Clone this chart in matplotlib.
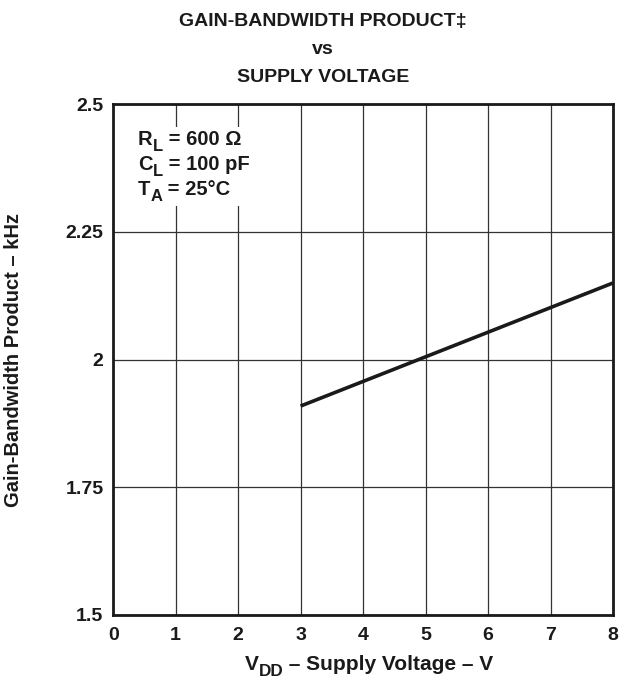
import matplotlib.pyplot as plt
from matplotlib.patches import Rectangle
from matplotlib.transforms import IdentityTransform
import numpy as np

plt.rcParams['font.family'] = ['Liberation Sans', 'DejaVu Sans']
plt.rcParams['font.weight'] = 'bold'

# supply voltage (V) and gain-bandwidth product (kHz)
vdd = [3, 8]
gbw = [1.909, 2.150]

x_ticks = [0, 1, 2, 3, 4, 5, 6, 7, 8]
y_ticks = [1.5, 1.75, 2, 2.25, 2.5]
y_tick_labels = ['1.5', '1.75', '2', '2.25', '2.5']

INK = '#1a1a1a'

fig = plt.figure(figsize=(6.32, 6.81), dpi=100)
ax = fig.add_axes([0.179, 0.097, 0.791, 0.750])
renderer = fig.canvas.get_renderer()


def sub_text(x, y, parts, size, ha='left'):
    # parts: list of (text, is_subscript); x, y in pixels (baseline of main text)
    objs = []
    for s, is_sub in parts:
        t = fig.text(0, 0, s, transform=IdentityTransform(), fontsize=size * (0.82 if is_sub else 1),
                     fontweight='bold', color=INK, va='baseline', ha='left', zorder=5)
        objs.append((t, is_sub))
    widths = [t.get_window_extent(renderer).width for t, _ in objs]
    total = sum(widths)
    cx = x - total / 2 if ha == 'center' else x
    for (t, is_sub), w in zip(objs, widths):
        t.set_position((cx, y - (size * 0.42 if is_sub else 0)))
        cx += w


ax.plot(vdd, gbw, color=INK, lw=2.6, solid_capstyle='butt', zorder=4)

ax.set_xlim(0, 8)
ax.set_ylim(1.5, 2.5)
ax.set_xticks(x_ticks)
ax.set_yticks(y_ticks)
ax.set_yticklabels(y_tick_labels)
ax.tick_params(length=0, labelsize=14, colors=INK)
ax.tick_params(axis='x', pad=9)
ax.tick_params(axis='y', pad=7)
for lbl in ax.get_xticklabels() + ax.get_yticklabels():
    lbl.set_fontweight('bold')

ax.grid(True, color='#333333', lw=0.9)
for s in ax.spines.values():
    s.set_linewidth(2)
    s.set_color(INK)

# blank out the grid behind the test conditions
ax.add_patch(Rectangle((0.004, 0.80), 0.28, 0.155, transform=ax.transAxes,
                       facecolor='white', edgecolor='none', zorder=3))

fig.text(14 / 632, 0.472, 'Gain-Bandwidth Product – kHz', rotation=90, ha='center',
         va='center', fontsize=14.5, fontweight='bold', color=INK)

sub_text(369, 681 - 670, [('V', False), ('DD', True), (' – Supply Voltage – V', False)], 15,
         ha='center')

fig.text(0.511, 0.969, 'GAIN-BANDWIDTH PRODUCT\u2021', ha='center', va='center',
         fontsize=14, fontweight='bold', color=INK)
fig.text(0.511, 0.928, 'vs', ha='center', va='center', fontsize=14, fontweight='bold',
         color=INK)
fig.text(0.511, 0.886, 'SUPPLY VOLTAGE', ha='center', va='center',
         fontsize=14, fontweight='bold', color=INK)

# test conditions
sub_text(138, 681 - 145, [('R', False), ('L', True), (' = 600 \u03a9', False)], 14.5)
sub_text(138, 681 - 170, [('C', False), ('L', True), (' = 100 pF', False)], 14.5)
sub_text(138, 681 - 195, [('T', False), ('A', True), (' = 25°C', False)], 14.5)

fig.savefig('out.png', dpi=100)
